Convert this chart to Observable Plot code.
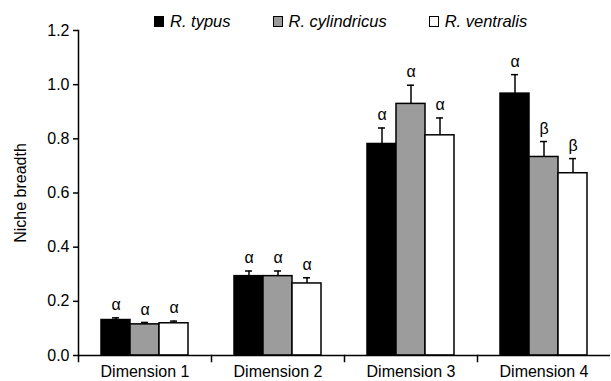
<!DOCTYPE html>
<html>
<head>
<meta charset="utf-8">
<script src="https://cdn.jsdelivr.net/npm/d3@7"></script>
<script src="https://cdn.jsdelivr.net/npm/@observablehq/plot@0.6"></script>
<style>
  html, body { margin: 0; padding: 0; background: #fff; }
  #wrap { position: relative; width: 611px; height: 381px; font-family: "Liberation Sans", Arial, sans-serif; }
  #legend { position: absolute; top: 12px; left: 154px; display: flex; gap: 42px; font-size: 16.5px; font-style: italic; line-height: 19px; z-index: 2; }
  #legend .item { display: flex; align-items: center; gap: 6px; }
  #legend .sw { width: 8px; height: 9px; border: 1.5px solid #000; }
</style>
</head>
<body>
<div id="wrap"><div id="legend"></div></div>
<script>
const dimensions = ["Dimension 1", "Dimension 2", "Dimension 3", "Dimension 4"];
const species = ["R. typus", "R. cylindricus", "R. ventralis"];
const speciesColors = ["#000000", "#9c9c9c", "#ffffff"];
const typusMean = [0.131, 0.293, 0.781, 0.967];
const typusUpper = [0.139, 0.312, 0.840, 1.037];
const typusSig = ["α", "α", "α", "α"];
const cylindricusMean = [0.115, 0.293, 0.929, 0.733];
const cylindricusUpper = [0.122, 0.312, 0.998, 0.790];
const cylindricusSig = ["α", "α", "α", "β"];
const ventralisMean = [0.119, 0.266, 0.813, 0.673];
const ventralisUpper = [0.127, 0.287, 0.877, 0.727];
const ventralisSig = ["α", "α", "α", "β"];
const yTicks = [0, 0.2, 0.4, 0.6, 0.8, 1.0, 1.2];

const series = [
  [typusMean, typusUpper, typusSig],
  [cylindricusMean, cylindricusUpper, cylindricusSig],
  [ventralisMean, ventralisUpper, ventralisSig]
];
const rows = [];
dimensions.forEach((dim, i) => {
  species.forEach((sp, j) => {
    rows.push({dim, sp, mean: series[j][0][i], upper: series[j][1][i], sig: series[j][2][i]});
  });
});

const chart = Plot.plot({
  width: 611,
  height: 381,
  marginLeft: 77,
  marginRight: 0,
  marginTop: 30,
  marginBottom: 26,
  style: {fontFamily: "'Liberation Sans', Arial, sans-serif", fontSize: "16px", color: "#000", background: "#fff", overflow: "visible"},
  fx: {domain: dimensions, padding: 0, label: null},
  x: {domain: species, paddingInner: 0, paddingOuter: 0.725, axis: null},
  y: {domain: [0, 1.2]},
  color: {domain: species, range: speciesColors},
  marks: [
    Plot.axisY({ticks: yTicks, tickFormat: d3.format(".1f"), tickSize: 5, tickPadding: 4, strokeWidth: 1.5, fontSize: 16,
      label: "Niche breadth", labelAnchor: "center", labelArrow: "none", labelOffset: 64}),
    Plot.axisFx({anchor: "bottom", tickSize: 0, tickPadding: 10, label: null, fontSize: 16}),
    Plot.barY(rows, {fx: "dim", x: "sp", y: "mean", fill: "sp", stroke: "#000", strokeWidth: 1.5}),
    Plot.ruleX(rows, {fx: "dim", x: "sp", y1: "mean", y2: "upper", stroke: "#000", strokeWidth: 1.5}),
    Plot.tickY(rows, {fx: "dim", x: "sp", y: "upper", insetLeft: 11, insetRight: 11, stroke: "#000", strokeWidth: 1.5}),
    Plot.text(rows, {fx: "dim", x: "sp", y: "upper", text: "sig", dy: -13, fontSize: 16}),
    Plot.ruleY([0], {stroke: "#000", strokeWidth: 1.5}),
    Plot.frame({anchor: "left", facetAnchor: "left", stroke: "#000", strokeWidth: 1.5}),
    Plot.frame({anchor: "left", insetTop: 325, insetBottom: -6, stroke: "#000", strokeWidth: 1.5})
  ]
});
const wrap = document.getElementById("wrap");
wrap.appendChild(chart);

const legend = document.getElementById("legend");
species.forEach((sp, j) => {
  const item = document.createElement("div");
  item.className = "item";
  const sw = document.createElement("span");
  sw.className = "sw";
  sw.style.background = speciesColors[j];
  const label = document.createElement("span");
  label.textContent = sp;
  item.appendChild(sw);
  item.appendChild(label);
  legend.appendChild(item);
});
</script>
</body>
</html>
